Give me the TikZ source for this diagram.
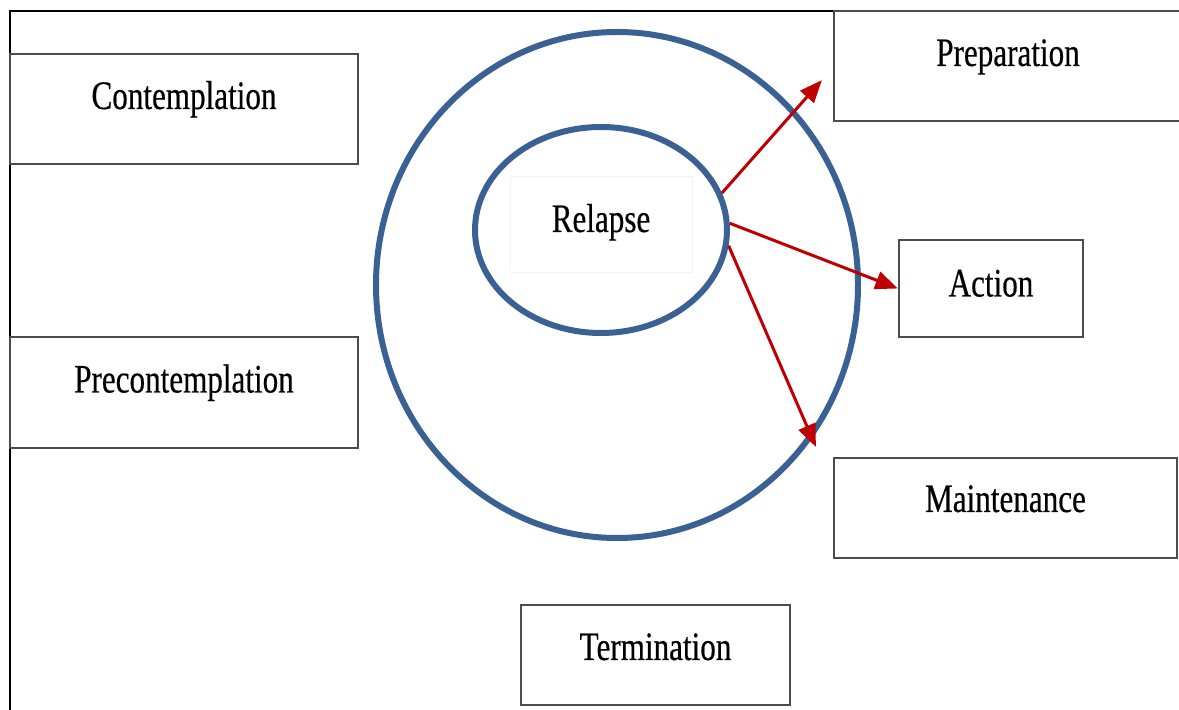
\documentclass[tikz,border=0pt]{standalone}
\usepackage{fontspec}
\setmainfont{Liberation Serif}[FakeStretch=0.77, FakeBold=0.4]
\usetikzlibrary{calc,arrows.meta,shapes.geometric}
\definecolor{ringblue}{HTML}{3A6194}
\definecolor{flowred}{HTML}{C00000}

\begin{document}
\begin{tikzpicture}[
    every node/.style={font=\fontsize{23}{27}\selectfont},
    stagebox/.style={draw=black!70, line width=0.045cm, fill=white, inner sep=0pt, text height=0.55cm, text depth=0.55cm},
    ring/.style={draw=ringblue, line width=0.12cm, ellipse, inner sep=0pt},
    flow/.style={draw=flowred, line width=0.06cm, -{Triangle[length=0.45cm,width=0.36cm]}, flowred}
]
    % Page and frame
    \useasboundingbox (0,0) rectangle (23.58,14.2);
    \clip (0,0) rectangle (23.58,14.2);
    \fill[white] (0,0) rectangle (23.58,14.2);
    \draw[line width=0.05cm] (0.2,0) -- (0.2,13.98) -- (23.58,13.98);

    % Stage boxes
    \node[stagebox, minimum width=6.96cm, minimum height=2.2cm] (contemp) at (3.68,12.02) {Contemplation};
    \node[stagebox, minimum width=6.96cm, minimum height=2.22cm] (precontemp) at (3.68,6.35) {Precontemplation};
    \node[stagebox, minimum width=6.96cm, minimum height=2.2cm] (prep) at (20.16,12.88) {Preparation};
    \node[stagebox, minimum width=3.68cm, minimum height=1.94cm, text depth=0.23cm] (action) at (19.82,8.43) {Action};
    \node[stagebox, minimum width=6.86cm, minimum height=2cm, text depth=0.39cm] (maint) at (20.11,4.04) {Maintenance};
    \node[stagebox, minimum width=5.38cm, minimum height=2cm, text depth=0.35cm] (term) at (13.11,1.1) {Termination};

    % Relapse rings
    \node[ring, minimum width=9.64cm, minimum height=10.12cm] (outer) at (12.34,8.5) {};
    \node[ring, minimum width=5.04cm, minimum height=4.12cm] (inner) at (12.02,9.6) {};
    \node[draw=black!5, line width=0.02cm, minimum width=3.64cm, minimum height=1.92cm, inner sep=0pt, text height=0.55cm, text depth=0.27cm] (relapse) at (12.02,9.7) {Relapse};

    % Exits from relapse
    \coordinate (prepIn) at ($(prep.south west)+(-0.22,0.84)$);
    \coordinate (maintIn) at ($(maint.north west)+(-0.34,0.2)$);
    \draw[flow] (inner.17) -- (prepIn);
    \draw[flow] (inner.3) -- (action.west);
    \draw[flow] (inner.-7) -- (maintIn);
\end{tikzpicture}
\end{document}
